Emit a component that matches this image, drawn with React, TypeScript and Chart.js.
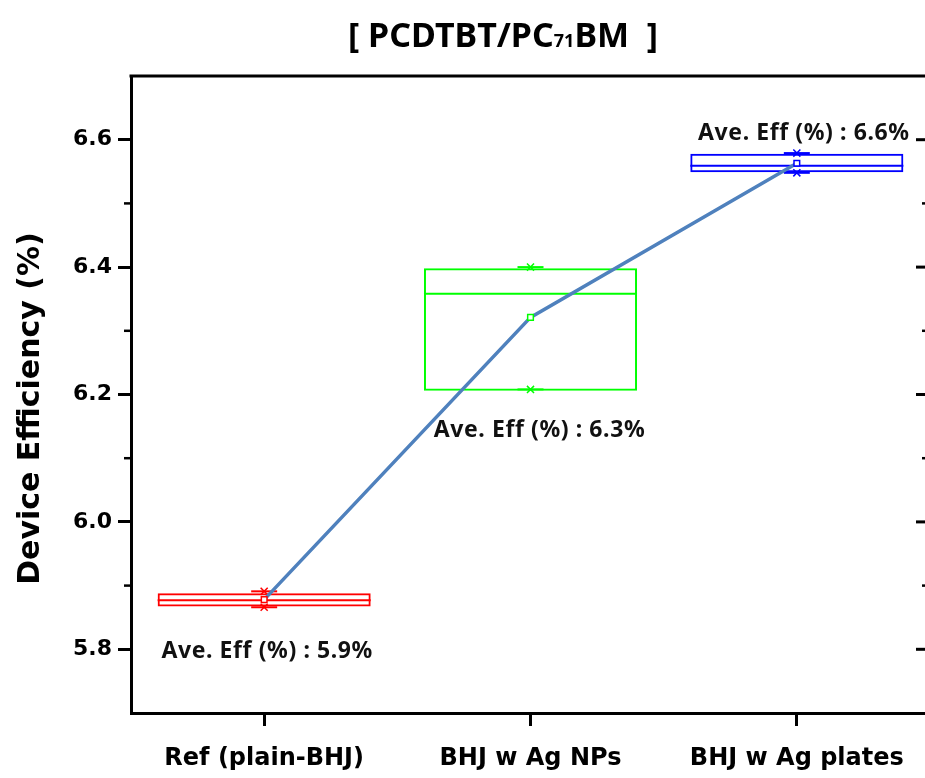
import React, { useEffect, useRef } from "react";
import { Chart, registerables } from "chart.js";

Chart.register(...registerables);

const categories = ["Ref (plain-BHJ)", "BHJ w Ag NPs", "BHJ w Ag plates"];
const boxLow = [5.867, 6.206, 6.549];
const boxHigh = [5.888, 6.398, 6.578];
const medians = [5.877, 6.358, 6.559];
const means = [5.878, 6.321, 6.563];
const maxVals = [5.891, 6.4, 6.579];
const minVals = [5.866, 6.208, 6.548];
const boxColors = ["#ff0000", "#00ff00", "#0000ff"];
const avgLabels = ["Ave. Eff (%) : 5.9%", "Ave. Eff (%) : 6.3%", "Ave. Eff (%) : 6.6%"];
const yMajorTicks = [5.8, 6.0, 6.2, 6.4, 6.6];
const yMinorTicks = [5.9, 6.1, 6.3, 6.5];
const yMin = 5.7;
const yMax = 6.7;

const CW = 945;
const CH = 778;

const decorPlugin = {
  id: "decor",
  afterDatasetDraw(chart: any, args: any) {
    if (args.index !== 0) return;
    const ctx = chart.ctx;
    const y = chart.scales.y;
    const meta = chart.getDatasetMeta(0);
    ctx.save();
    meta.data.forEach((bar: any, i: number) => {
      const w = bar.width;
      const py = y.getPixelForValue(medians[i]);
      ctx.strokeStyle = boxColors[i];
      ctx.lineWidth = 2;
      ctx.beginPath();
      ctx.moveTo(bar.x - w / 2, py);
      ctx.lineTo(bar.x + w / 2, py);
      ctx.stroke();
    });
    ctx.restore();
  },
  afterDraw(chart: any) {
    const ctx = chart.ctx;
    const ca = chart.chartArea;
    const y = chart.scales.y;
    const x = chart.scales.x;
    ctx.save();
    // top frame
    ctx.strokeStyle = "#000";
    ctx.lineWidth = 3;
    ctx.beginPath();
    ctx.moveTo(ca.left - 1.5, ca.top);
    ctx.lineTo(ca.right + 1.5, ca.top);
    ctx.stroke();
    // left minor ticks
    ctx.lineWidth = 2.5;
    yMinorTicks.forEach((v) => {
      const py = y.getPixelForValue(v);
      ctx.beginPath();
      ctx.moveTo(ca.left - 7, py);
      ctx.lineTo(ca.left, py);
      ctx.stroke();
    });
    // right ticks (inward)
    ctx.lineWidth = 3;
    yMajorTicks.forEach((v) => {
      const py = y.getPixelForValue(v);
      ctx.beginPath();
      ctx.moveTo(ca.right - 14, py);
      ctx.lineTo(ca.right, py);
      ctx.stroke();
    });
    ctx.lineWidth = 2.5;
    yMinorTicks.forEach((v) => {
      const py = y.getPixelForValue(v);
      ctx.beginPath();
      ctx.moveTo(ca.right - 8, py);
      ctx.lineTo(ca.right, py);
      ctx.stroke();
    });

    // average labels
    ctx.fillStyle = "#111";
    ctx.font = 'bold 23px "Noto Sans"';
    (ctx as any).letterSpacing = "0.6px";
    ctx.textAlign = "center";
    ctx.textBaseline = "alphabetic";
    avgLabels.forEach((t, i) => {
      const cx = x.getPixelForValue(i);
      if (i === 2) {
        ctx.fillText(t, cx + 7, y.getPixelForValue(boxHigh[i]) - 14);
      } else if (i === 1) {
        ctx.fillText(t, cx + 9, y.getPixelForValue(boxLow[i]) + 46);
      } else {
        ctx.fillText(t, cx + 3, y.getPixelForValue(boxLow[i]) + 51);
      }
    });
    (ctx as any).letterSpacing = "0px";

    // y axis title
    ctx.save();
    ctx.translate(31, (ca.top + ca.bottom) / 2 + 14);
    ctx.rotate(-Math.PI / 2);
    ctx.font = 'bold 30px "DejaVu Sans"';
    ctx.fillStyle = "#000";
    ctx.textAlign = "center";
    ctx.textBaseline = "middle";
    ctx.fillText("Device Efficiency (%)", 0, 0);
    ctx.restore();

    // chart title with subscript
    const bigFont = 'bold 34px "Noto Sans"';
    const smallFont = 'bold 18px "Noto Sans"';
    const parts = [
      { t: "[ PCDTBT/PC", f: bigFont },
      { t: "71", f: smallFont },
      { t: "BM  ]", f: bigFont },
    ];
    let total = 0;
    const widths = parts.map((p) => {
      ctx.font = p.f;
      const w = ctx.measureText(p.t).width;
      total += w;
      return w;
    });
    let tx = 503 - total / 2;
    ctx.textAlign = "left";
    ctx.textBaseline = "alphabetic";
    ctx.fillStyle = "#000";
    parts.forEach((p, i) => {
      ctx.font = p.f;
      ctx.fillText(p.t, tx, 47);
      tx += widths[i];
    });
    ctx.restore();
  },
};

export default function App() {
  const ref = useRef<HTMLCanvasElement | null>(null);
  useEffect(() => {
    if (!ref.current) return;
    const chart = new Chart(ref.current, {
      type: "bar",
      data: {
        labels: categories,
        datasets: [
          {
            type: "bar",
            data: boxLow.map((l, i) => [l, boxHigh[i]]) as any,
            backgroundColor: "rgba(0,0,0,0)",
            borderColor: boxColors,
            borderWidth: 2,
            borderSkipped: false,
            barPercentage: 0.8,
            categoryPercentage: 1,
            order: 5,
          } as any,
          {
            type: "line",
            data: maxVals,
            showLine: false,
            pointStyle: "line",
            pointRadius: 13,
            pointBorderColor: boxColors,
            pointBorderWidth: 2,
            order: 4,
          } as any,
          {
            type: "line",
            data: minVals,
            showLine: false,
            pointStyle: "line",
            pointRadius: 13,
            pointBorderColor: boxColors,
            pointBorderWidth: 2,
            order: 4,
          } as any,
          {
            type: "line",
            data: maxVals,
            showLine: false,
            pointStyle: "crossRot",
            pointRadius: 5,
            pointBorderColor: boxColors,
            pointBorderWidth: 1.5,
            order: 3,
          } as any,
          {
            type: "line",
            data: minVals,
            showLine: false,
            pointStyle: "crossRot",
            pointRadius: 5,
            pointBorderColor: boxColors,
            pointBorderWidth: 1.5,
            order: 3,
          } as any,
          {
            type: "line",
            data: means,
            borderColor: "#4f81bd",
            borderWidth: 3.5,
            pointStyle: "rect",
            pointRadius: 4,
            pointBackgroundColor: "#ffffff",
            pointBorderColor: boxColors,
            pointBorderWidth: 1.5,
            order: 1,
          } as any,
        ],
      },
      options: {
        responsive: false,
        animation: false,
        layout: { padding: { top: 76, left: 0, right: 0, bottom: 0 } },
        plugins: {
          legend: { display: false },
          tooltip: { enabled: false },
          title: { display: false },
        },
        scales: {
          x: {
            type: "category",
            offset: true,
            grid: {
              display: true,
              drawOnChartArea: false,
              drawTicks: true,
              tickLength: 13,
              tickWidth: 3,
              tickColor: "#000",
              offset: false,
            },
            border: { display: true, color: "#000", width: 3 },
            ticks: {
              color: "#000",
              font: { family: "DejaVu Sans", weight: "bold", size: 24 },
              padding: 18,
              maxRotation: 0,
              autoSkip: false,
            },
            afterFit(scale: any) {
              scale.height = 65;
            },
          },
          y: {
            position: "left",
            min: yMin,
            max: yMax,
            afterBuildTicks(scale: any) {
              scale.ticks = yMajorTicks.map((v) => ({ value: v }));
            },
            grid: {
              display: true,
              drawOnChartArea: false,
              drawTicks: true,
              tickLength: 13,
              tickWidth: 3,
              tickColor: "#000",
            },
            border: { display: true, color: "#000", width: 3 },
            ticks: {
              color: "#000",
              font: { family: "DejaVu Sans", weight: "bold", size: 22 },
              padding: 6,
              callback: (v: any) => Number(v).toFixed(1),
            },
            afterFit(scale: any) {
              scale.width = 131;
            },
          },
          y2: {
            position: "right",
            min: yMin,
            max: yMax,
            ticks: { display: false },
            grid: { display: false, drawOnChartArea: false },
            border: { display: true, color: "#000", width: 3 },
            afterFit(scale: any) {
              scale.width = CW - 931;
            },
          },
        },
      } as any,
      plugins: [decorPlugin],
    });
    return () => chart.destroy();
  }, []);
  return (
    <div
      style={{
        position: "fixed",
        left: 0,
        top: 0,
        width: 925,
        height: 778,
        overflow: "hidden",
        background: "#fff",
      }}
    >
      <canvas ref={ref} width={CW} height={CH} style={{ display: "block" }} />
    </div>
  );
}
